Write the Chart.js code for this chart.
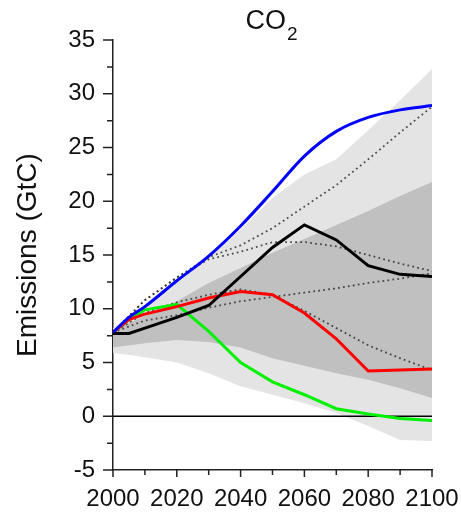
<!DOCTYPE html>
<html>
<head>
<meta charset="utf-8">
<script src="https://cdn.jsdelivr.net/npm/chart.js@4/dist/chart.umd.min.js"></script>
<style>
  html, body { margin: 0; padding: 0; background: #fff; overflow: hidden; }
  #wrap { position: relative; width: 461px; height: 512px; }
  #title {
    position: absolute; left: 82px; width: 379px; top: 7px;
    text-align: center; color: #111;
    font-family: 'Liberation Sans', Arial, sans-serif;
    font-size: 27px; line-height: 27px;
  }
  #title span { position: relative; top: 11px; font-size: 19px; margin-left: 1px; }
  canvas { position: absolute; left: 0; top: 0; }
</style>
</head>
<body>
<div id="wrap">
  <canvas id="co2Chart" width="461" height="512"></canvas>
  <div id="title">CO<span>2</span></div>
</div>
<script>
// tahun untuk pita dan garis titik-titik
const bandYears = [2000, 2010, 2020, 2030, 2040, 2050, 2060, 2070, 2080, 2090, 2100];
// tahun untuk skenario utama (ada titik 2005)
const scenarioYears = [2000, 2005, 2010, 2020, 2030, 2040, 2050, 2060, 2070, 2080, 2090, 2100];

// skenario utama (GtC)
const blueSeries  = [7.8, 9.2, 10.2, 12.6, 14.9, 17.7, 20.9, 24.2, 26.5, 27.8, 28.5, 28.9];
const blackSeries = [7.7, 7.7, 8.2, 9.2, 10.3, 13.0, 15.7, 17.8, 16.4, 14.0, 13.2, 13.0];
const redSeries   = [7.8, 9.0, 9.5, 10.2, 11.0, 11.6, 11.3, 9.6, 7.2, 4.2, 4.3, 4.4];
const greenSeries = [7.8, 9.0, 9.9, 10.4, 7.9, 5.0, 3.2, 2.0, 0.7, 0.2, -0.2, -0.4];

// garis titik-titik
const dottedA = [7.8, 10.8, 12.9, 14.8, 15.9, 17.5, 19.5, 21.5, 23.9, 26.4, 28.8];
const dottedB = [7.8, 10.8, 12.9, 14.6, 15.3, 16.2, 16.2, 15.8, 15.0, 14.2, 13.5];
const dottedC = [7.8, 8.9, 9.4, 10.1, 10.7, 11.1, 11.5, 11.9, 12.4, 12.8, 13.3];
const dottedD = [7.8, 9.6, 10.6, 11.3, 11.8, 11.3, 9.8, 8.2, 6.6, 5.4, 4.3];

// pita abu-abu
const lightUpper = [8.2, 10.1, 12.4, 14.7, 17.4, 20.3, 22.5, 23.9, 26.6, 29.4, 32.3];
const lightLower = [5.9, 5.5, 5.0, 4.0, 2.8, 2.0, 1.2, 0.3, -0.9, -2.2, -2.3];
const darkUpper  = [8.1, 9.3, 10.7, 12.4, 13.8, 15.2, 16.5, 17.8, 19.1, 20.5, 21.8];
const darkLower  = [6.4, 6.8, 7.1, 6.9, 6.4, 5.4, 4.7, 4.0, 3.4, 2.6, 1.7];

const zeroYears = [2000, 2100];
const zeroLine = [0, 0];

function toPoints(xs, ys) {
    return ys.map((v, i) => ({ x: xs[i], y: v }));
}

function solidLine(color, data, smooth) {
    return {
        data: toPoints(scenarioYears, data),
        borderColor: color,
        borderWidth: 3,
        pointRadius: 0,
        fill: false,
        cubicInterpolationMode: smooth ? 'monotone' : 'default',
        tension: 0,
        order: 1
    };
}

function dottedLine(data) {
    return {
        data: toPoints(bandYears, data),
        borderColor: 'rgba(40,40,40,0.8)',
        borderWidth: 1.8,
        borderDash: [1.8, 3.2],
        pointRadius: 0,
        fill: false,
        order: 2
    };
}

const tickMarks = {
    id: 'tickMarks',
    afterDraw(chart) {
        const ctx = chart.ctx;
        const xs = chart.scales.x;
        const ys = chart.scales.y;
        ctx.save();
        ctx.strokeStyle = '#222';
        ctx.lineWidth = 1.5;
        ctx.beginPath();
        ys.ticks.forEach(t => {
            const py = ys.getPixelForValue(t.value);
            const len = t.value % 5 === 0 ? 10 : 6;
            ctx.moveTo(ys.right - len, py);
            ctx.lineTo(ys.right, py);
        });
        xs.ticks.forEach(t => {
            const px = xs.getPixelForValue(t.value);
            const len = t.value % 20 === 0 ? 7 : 5;
            ctx.moveTo(px, xs.top);
            ctx.lineTo(px, xs.top + len);
        });
        ctx.stroke();
        ctx.restore();
    }
};

Chart.defaults.font.family = "'Liberation Sans', Arial, sans-serif";
Chart.defaults.color = '#111';

const datasets = [
    solidLine('#0000ff', blueSeries, true),   // 0
    solidLine('#000000', blackSeries, false), // 1
    solidLine('#ff0000', redSeries, false),   // 2
    solidLine('#00f000', greenSeries, false), // 3
    dottedLine(dottedA),                      // 4
    dottedLine(dottedB),                      // 5
    dottedLine(dottedC),                      // 6
    dottedLine(dottedD),                      // 7
    {                                         // 8 garis nol
        data: toPoints(zeroYears, zeroLine),
        borderColor: '#000',
        borderWidth: 1.5,
        pointRadius: 0,
        fill: false,
        order: 3
    },
    {                                         // 9
        data: toPoints(bandYears, darkLower),
        borderWidth: 0,
        pointRadius: 0,
        fill: false,
        order: 4
    },
    {                                         // 10
        data: toPoints(bandYears, darkUpper),
        borderWidth: 0,
        pointRadius: 0,
        backgroundColor: '#c0c0c0',
        fill: { target: 9 },
        order: 5
    },
    {                                         // 11
        data: toPoints(bandYears, lightLower),
        borderWidth: 0,
        pointRadius: 0,
        fill: false,
        order: 6
    },
    {                                         // 12
        data: toPoints(bandYears, lightUpper),
        borderWidth: 0,
        pointRadius: 0,
        backgroundColor: '#e4e4e4',
        fill: { target: 11 },
        order: 7
    }
];

const ctx = document.getElementById('co2Chart').getContext('2d');
window.chart1 = new Chart(ctx, {
    type: 'line',
    data: { datasets: datasets },
    options: {
        responsive: false,
        animation: false,
        devicePixelRatio: 1,
        layout: { padding: { left: 0, right: 29, top: 40, bottom: 0 } },
        plugins: {
            legend: { display: false },
            tooltip: { enabled: false }
        },
        scales: {
            x: {
                type: 'linear',
                min: 2000,
                max: 2100,
                grid: { display: false, drawTicks: false, tickLength: 0 },
                border: { display: true, color: '#222', width: 1.5 },
                ticks: {
                    stepSize: 10,
                    autoSkip: false,
                    maxRotation: 0,
                    padding: 15,
                    font: { size: 24 },
                    callback: v => (v % 20 === 0 ? String(v) : '')
                },
                afterFit: scale => {
                    scale.height = 42;
                    scale.paddingLeft = 0;
                    scale.paddingRight = 29;
                }
            },
            y: {
                min: -5,
                max: 35,
                grid: { display: false, drawTicks: false, tickLength: 0 },
                border: { display: true, color: '#222', width: 1.5 },
                ticks: {
                    stepSize: 2.5,
                    autoSkip: false,
                    padding: 18,
                    font: { size: 24 },
                    callback: v => (v % 5 === 0 ? String(v) : '')
                },
                title: {
                    display: true,
                    text: 'Emissions (GtC)',
                    font: { size: 28 },
                    padding: { top: 11, bottom: 0 }
                },
                afterFit: scale => {
                    scale.width = 113;
                    scale.paddingTop = 0;
                    scale.paddingBottom = 0;
                }
            }
        }
    },
    plugins: [tickMarks]
});
</script>
</body>
</html>
